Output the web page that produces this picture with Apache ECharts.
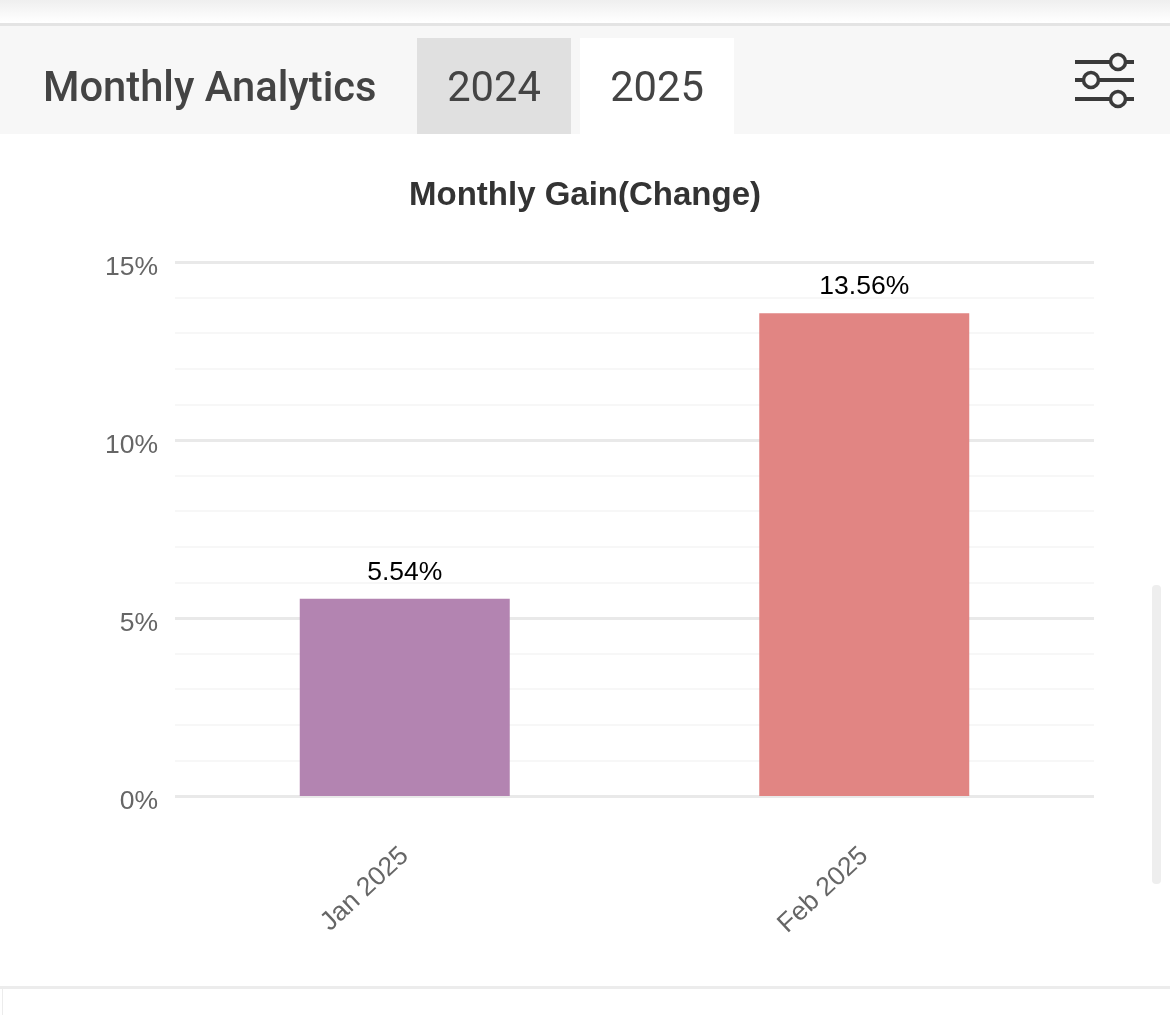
<!DOCTYPE html>
<html>
<head>
<meta charset="utf-8">
<style>html,body{margin:0;padding:0;background:#fff;overflow:hidden}#c{width:1170px;height:1015px}</style>
<script src="https://cdn.jsdelivr.net/npm/echarts@6/dist/echarts.min.js"></script>
</head>
<body>
<div id="c"></div>
<script>
const categories = ['Jan 2025', 'Feb 2025'];
const gains = [5.54, 13.56];
const barColors = ['#b384b1', '#e18583'];
const yearTabs = ['2024', '2025'];
const ink = '#444444';

const chart = echarts.init(document.getElementById('c'), null, {renderer: 'canvas', width: 1170, height: 1015});

function iconLine(y) {
  return {type: 'line', shape: {x1: 1075, y1: y, x2: 1134, y2: y}, style: {stroke: '#3a3a3a', lineWidth: 4}, z: 10};
}
function iconDot(x, y) {
  return {type: 'circle', shape: {cx: x, cy: y, r: 7.5}, style: {fill: '#f7f7f7', stroke: '#3a3a3a', lineWidth: 3.5}, z: 11};
}

const graphics = [
  {type: 'rect', shape: {x: 0, y: 0, width: 1170, height: 22},
   style: {fill: new echarts.graphic.LinearGradient(0, 0, 0, 1, [{offset: 0, color: '#efefef'}, {offset: 1, color: '#ffffff'}])}, z: 1},
  {type: 'rect', shape: {x: 0, y: 23, width: 1170, height: 3}, style: {fill: '#e4e4e4'}, z: 2},
  {type: 'rect', shape: {x: 0, y: 26, width: 1170, height: 108}, style: {fill: '#f7f7f7'}, z: 2},
  {type: 'rect', shape: {x: 417, y: 38, width: 154, height: 96}, style: {fill: '#e0e0e0'}, z: 3},
  {type: 'rect', shape: {x: 580, y: 38, width: 154, height: 96}, style: {fill: '#ffffff'}, z: 3},
  {type: 'text', x: 43, y: 91, z: 5, style: {text: 'Monthly Analytics', font: '500 41.7px Roboto', fill: ink, textVerticalAlign: 'middle'}},
  {type: 'text', x: 494, y: 91, z: 5, style: {text: yearTabs[0], font: '400 41.7px Roboto', fill: ink, textAlign: 'center', textVerticalAlign: 'middle'}},
  {type: 'text', x: 657, y: 91, z: 5, style: {text: yearTabs[1], font: '400 41.7px Roboto', fill: ink, textAlign: 'center', textVerticalAlign: 'middle'}},
  iconLine(62), iconLine(80), iconLine(99),
  iconDot(1118, 62), iconDot(1091, 80), iconDot(1118, 99),
  {type: 'rect', shape: {x: 1152, y: 585, width: 9, height: 299, r: 4}, style: {fill: '#eeeeee'}, z: 2},
  {type: 'rect', shape: {x: 0, y: 986, width: 1170, height: 3}, style: {fill: '#ececec'}, z: 2},
  {type: 'rect', shape: {x: 2, y: 989, width: 1, height: 26}, style: {fill: '#ececec'}, z: 2}
];

chart.setOption({
  animation: false,
  backgroundColor: '#ffffff',
  textStyle: {fontFamily: 'Liberation Sans'},
  title: {
    text: 'Monthly Gain(Change)', left: 'center', top: 174,
    textStyle: {fontFamily: 'Liberation Sans', fontSize: 33, fontWeight: 'bold', color: '#333333'}
  },
  grid: {left: 175, right: 76, top: 262, height: 534, containLabel: false},
  xAxis: {
    type: 'category', data: categories,
    axisLine: {show: false}, axisTick: {show: false}, splitLine: {show: false},
    axisLabel: {rotate: 43, fontSize: 26.5, color: '#666666', margin: 56, fontFamily: 'Liberation Sans', interval: 0}
  },
  yAxis: {
    type: 'value', min: 0, max: 15, interval: 5,
    axisLine: {show: false}, axisTick: {show: false},
    axisLabel: {formatter: '{value}%', fontSize: 26.5, color: '#666666', margin: 17, fontFamily: 'Liberation Sans', verticalAlign: 'top', padding: [-8, 0, 0, 0]},
    splitLine: {show: true, lineStyle: {color: '#e9e9e9', width: 3}},
    minorTick: {show: false, splitNumber: 5},
    minorSplitLine: {show: true, lineStyle: {color: '#f7f7f7', width: 2}}
  },
  series: [{
    type: 'bar', barWidth: 210,
    data: gains.map((v, i) => ({value: v, itemStyle: {color: barColors[i]}})),
    label: {show: true, position: 'top', distance: 13, formatter: p => p.value.toFixed(2) + '%', fontSize: 26.5, color: '#000000', fontFamily: 'Liberation Sans'},
    z: 4
  }],
  graphic: {elements: graphics}
});
</script>
</body>
</html>
